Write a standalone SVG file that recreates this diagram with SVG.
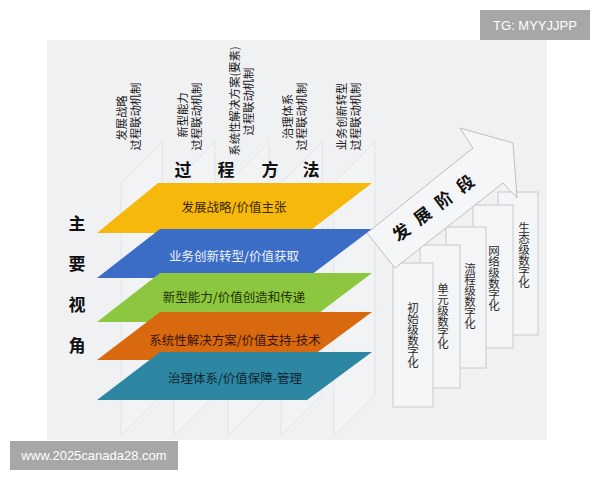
<svg xmlns="http://www.w3.org/2000/svg" width="600" height="480" viewBox="0 0 600 480">
<style>
  text { font-family: "Noto Sans CJK SC", "Noto Sans", sans-serif; }
  .lbl { font-size: 11.3px; fill: #1a1a1a; text-anchor: middle; }
  .head { font-size: 17px; font-weight: bold; fill: #111; text-anchor: middle; }
  .layer-t { font-size: 12.5px; text-anchor: middle; }
  .slab { fill: #f6f7f8; fill-opacity: 0.35; stroke: #dfe2e5; stroke-width: 0.8; }
  .box { fill: #f4f5f6; stroke: #c8cacd; stroke-width: 1; }
  .boxt { font-size: 11.5px; fill: #2a2a2a; text-anchor: middle; }
  .wm { fill: #a7a7a7; }
  .wmt { font-family: "Liberation Sans", "DejaVu Sans", sans-serif; font-size: 13px; fill: #ffffff; text-anchor: middle; }
</style>
<rect x="0" y="0" width="600" height="480" fill="#ffffff"/>
<rect x="47" y="40" width="500" height="400" fill="#f0f1f3"/>

<g id="slabs">
  <polygon class="slab" points="121,183 162,142 162,395 121,436"/>
  <polygon class="slab" points="174,183 215,142 215,395 174,436"/>
  <polygon class="slab" points="228,183 269,142 269,395 228,436"/>
  <polygon class="slab" points="281,183 322,142 322,395 281,436"/>
  <polygon class="slab" points="334,183 375,142 375,395 334,436"/>
</g>

<g id="process-labels">
  <g id="label-1">
    <text class="lbl" transform="translate(126,118) rotate(-90)">发展战略</text>
    <text class="lbl" transform="translate(139.5,116.5) rotate(-90)">过程联动机制</text>
  </g>
  <g id="label-2">
    <text class="lbl" transform="translate(187,115) rotate(-90)">新型能力</text>
    <text class="lbl" transform="translate(201,116.5) rotate(-90)">过程联动机制</text>
  </g>
  <g id="label-3">
    <text class="lbl" transform="translate(239,101) rotate(-90)">系统性解决方案(要素)</text>
    <text class="lbl" transform="translate(252.5,101.5) rotate(-90)">过程联动机制</text>
  </g>
  <g id="label-4">
    <text class="lbl" transform="translate(292,116.5) rotate(-90)">治理体系</text>
    <text class="lbl" transform="translate(306,116.5) rotate(-90)">过程联动机制</text>
  </g>
  <g id="label-5">
    <text class="lbl" transform="translate(346,116.5) rotate(-90)">业务创新转型</text>
    <text class="lbl" transform="translate(360,116.5) rotate(-90)">过程联动机制</text>
  </g>
</g>

<g id="title-process">
  <text class="head" x="183 226 270 311" y="176 176 176 176">过程方法</text>
</g>
<g id="title-view">
  <text class="head" x="77 77 77 77" y="230 270 311 352">主要视角</text>
</g>

<g id="layers">
  <g id="layer-1">
    <polygon points="158,183 372,183 307,233 97,233" fill="#f6b80c"/>
    <text class="layer-t" x="234" y="212" fill="#3a2800">发展战略/价值主张</text>
  </g>
  <g id="layer-2">
    <polygon points="160,229 372,229 307,278 97,278" fill="#3b6dc6"/>
    <text class="layer-t" x="234" y="261" fill="#eef3fb">业务创新转型/价值获取</text>
  </g>
  <g id="layer-3">
    <polygon points="160,273 372,273 307,322 97,322" fill="#8dc63f"/>
    <text class="layer-t" x="234" y="302" fill="#1f3300">新型能力/价值创造和传递</text>
  </g>
  <g id="layer-4">
    <polygon points="160,312 372,312 307,360 97,360" fill="#d9690f"/>
    <text class="layer-t" x="235" y="345" fill="#3a1400">系统性解决方案/价值支持-技术</text>
  </g>
  <g id="layer-5">
    <polygon points="160,352 372,352 307,400 97,400" fill="#2d87a3"/>
    <text class="layer-t" x="235" y="383" fill="#0e2630">治理体系/价值保障-管理</text>
  </g>
</g>

<g id="stages">
  <g id="stage-5">
    <rect class="box" x="498" y="192" width="40" height="143"/>
    <text class="boxt" x="524 524 524 524 524 524" y="232 243 254 265 276 287">生态级数字化</text>
  </g>
  <g id="stage-4">
    <rect class="box" x="473" y="205" width="40" height="143"/>
    <text class="boxt" x="494 494 494 494 494 494" y="255 266 277 288 299 310">网络级数字化</text>
  </g>
  <g id="stage-3">
    <rect class="box" x="446" y="227" width="40" height="141"/>
    <text class="boxt" x="470 470 470 470 470 470" y="273 284 295 306 317 328">流程级数字化</text>
  </g>
  <g id="stage-2">
    <rect class="box" x="420" y="245" width="40" height="143"/>
    <text class="boxt" x="443 443 443 443 443 443" y="293 304 315 326 337 348">单元级数字化</text>
  </g>
  <g id="stage-1">
    <rect class="box" x="393" y="263" width="40" height="144"/>
    <text class="boxt" x="413 413 413 413 413 413" y="312 323 334 345 356 367">初始级数字化</text>
  </g>
</g>

<g id="connectors">
  <g id="stage-arrow">
    <polygon points="367,233 473,148 460,128 513,143 517,198 503,183 395,268" fill="#f5f6f8" stroke="#bcbfc3" stroke-width="1"/>
    <text class="head" transform="translate(437,213) rotate(-37)" x="-40 -13.3 13.3 40" y="0 0 0 0">发展阶段</text>
  </g>
</g>

<g id="watermarks">
  <rect class="wm" x="480" y="10" width="110" height="30"/>
  <text class="wmt" x="535" y="30">TG: MYYJJPP</text>
  <rect class="wm" x="10" y="441" width="168" height="29"/>
  <text class="wmt" x="94" y="460">www.2025canada28.com</text>
</g>
</svg>
